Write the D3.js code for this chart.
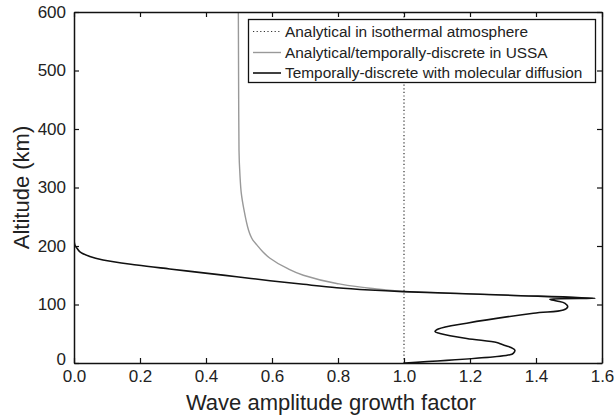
<!DOCTYPE html>
<html><head><meta charset="utf-8">
<script src="https://cdn.jsdelivr.net/npm/d3@7"></script>
<style>body{margin:0;background:#fff}svg{display:block}text{font-family:"Liberation Sans",Arial,sans-serif;fill:#222}</style>
</head><body><svg id="c" width="616" height="420"></svg>
<script>
const xTicks=[0,0.2,0.4,0.6,0.8,1.0,1.2,1.4,1.6];
const yTicks=[0,100,200,300,400,500,600];
const seriesNames=["Analytical in isothermal atmosphere","Analytical/temporally-discrete in USSA","Temporally-discrete with molecular diffusion"];
// isothermal analytical: factor vs altitude (km)
const isoFactor=[1.0,1.0];
const isoAlt=[0,600];
// USSA analytical
const ussaFactor=[0.498,0.499,0.5,0.503,0.507,0.515,0.521,0.529,0.534,0.542,0.554,0.572,0.594,0.645,0.695,0.796,0.897,0.997,1.3,1.579];
const ussaAlt=[600,450,364,320,290,262,245,227,219,210,202,190,179,162,150,136,127.7,122.5,116.2,110.5];
// with molecular diffusion
const mdFactor=[0,0,0,0.003,0.008,0.018,0.048,0.088,0.19,0.29,0.392,0.493,0.594,0.695,0.796,0.897,0.997,1.3,1.579,1.442,1.463,1.488,1.496,1.483,1.392,1.19,1.104,1.094,1.109,1.19,1.281,1.296,1.311,1.326,1.336,1.331,1.321,1.003];
const mdAlt=[600,400,210,201,197,190,182,176,167.5,160.7,154,147.5,140.7,134.5,128.7,124.8,122,116.2,110.5,109,106,102,96,90.6,85,68,58,53.5,50.6,42,35,32,29,26,22,16.5,14,0];
</script>
<script>
const svg=d3.select("#c");
const L=74,R=602,T=12,B=363;
const x=d3.scaleLinear().domain([0,1.6]).range([L,R]);
const y=d3.scaleLinear().domain([0,600]).range([B,T]);
svg.append("defs").append("clipPath").attr("id","pa").append("rect").attr("x",L).attr("y",T).attr("width",R-L).attr("height",B-T);
const g=svg.append("g").attr("clip-path","url(#pa)");
const line=d3.line().x(d=>x(d[0])).y(d=>y(d[1]));
const iso=isoFactor.map((v,i)=>[v,isoAlt[i]]);
const ussa=ussaFactor.map((v,i)=>[v,ussaAlt[i]]);
const md=mdFactor.map((v,i)=>[v,mdAlt[i]]);
g.append("path").attr("d",line(iso)).attr("fill","none").attr("stroke","#333").attr("stroke-width",1.2).attr("stroke-dasharray","1.2,2.4");
g.append("path").attr("d",d3.line().curve(d3.curveMonotoneY).x(d=>x(d[0])).y(d=>y(d[1]))(ussa)).attr("fill","none").attr("stroke","#999").attr("stroke-width",1.4);
g.append("path").attr("d",d3.line().curve(d3.curveCatmullRom.alpha(0.5)).x(d=>x(d[0])).y(d=>y(d[1]))(md)).attr("fill","none").attr("stroke","#111").attr("stroke-width",1.6).attr("stroke-linejoin","round");
// axes (ticks inward)
const fmt=d3.format(".1f");
const ax=[
 [d3.axisBottom(x).tickValues(xTicks).tickFormat(fmt).tickSizeInner(-5).tickSizeOuter(0).tickPadding(7),`translate(0,${B})`],
 [d3.axisTop(x).tickValues(xTicks).tickFormat("").tickSizeInner(-5).tickSizeOuter(0),`translate(0,${T})`],
 [d3.axisLeft(y).tickValues(yTicks).tickFormat(d3.format("d")).tickSizeInner(-5).tickSizeOuter(0).tickPadding(8),`translate(${L},0)`],
 [d3.axisRight(y).tickValues(yTicks).tickFormat("").tickSizeInner(-5).tickSizeOuter(0),`translate(${R},0)`]
];
ax.forEach(([a,t],k)=>{
 const s=svg.append("g").attr("transform",t).call(a);
 s.select(".domain").attr("stroke","#111").attr("stroke-width",1.5);
 s.selectAll(".tick line").attr("stroke","#111").attr("stroke-width",1.2);
 s.selectAll("text").attr("font-size",17).attr("fill","#222").attr("font-family","Liberation Sans, Arial, sans-serif");
 if(k===2) s.selectAll(".tick").filter(d=>d===0).select("text").attr("dy","0.1em");
});
svg.append("text").attr("x",(L+R)/2-7).attr("y",410).attr("text-anchor","middle").attr("font-size",22).text("Wave amplitude growth factor");
svg.append("text").attr("transform",`translate(29,${(T+B)/2}) rotate(-90)`).attr("text-anchor","middle").attr("font-size",22).text("Altitude (km)");
// legend
const lg=svg.append("g");
lg.append("rect").attr("x",248.5).attr("y",19.5).attr("width",347).attr("height",63).attr("fill","#fff").attr("stroke","#111").attr("stroke-width",1.3);
const styles=[{s:"#333",d:"1.2,2.4",w:1.2},{s:"#999",d:null,w:1.4},{s:"#111",d:null,w:1.6}];
const rowY=[31.5,52.5,73];
seriesNames.forEach((n,i)=>{
 lg.append("line").attr("x1",253).attr("x2",281).attr("y1",rowY[i]).attr("y2",rowY[i]).attr("stroke",styles[i].s).attr("stroke-width",styles[i].w).attr("stroke-dasharray",styles[i].d);
 lg.append("text").attr("x",285).attr("y",rowY[i]).attr("dy","0.35em").attr("font-size",15.4).text(n);
});
</script></body></html>
